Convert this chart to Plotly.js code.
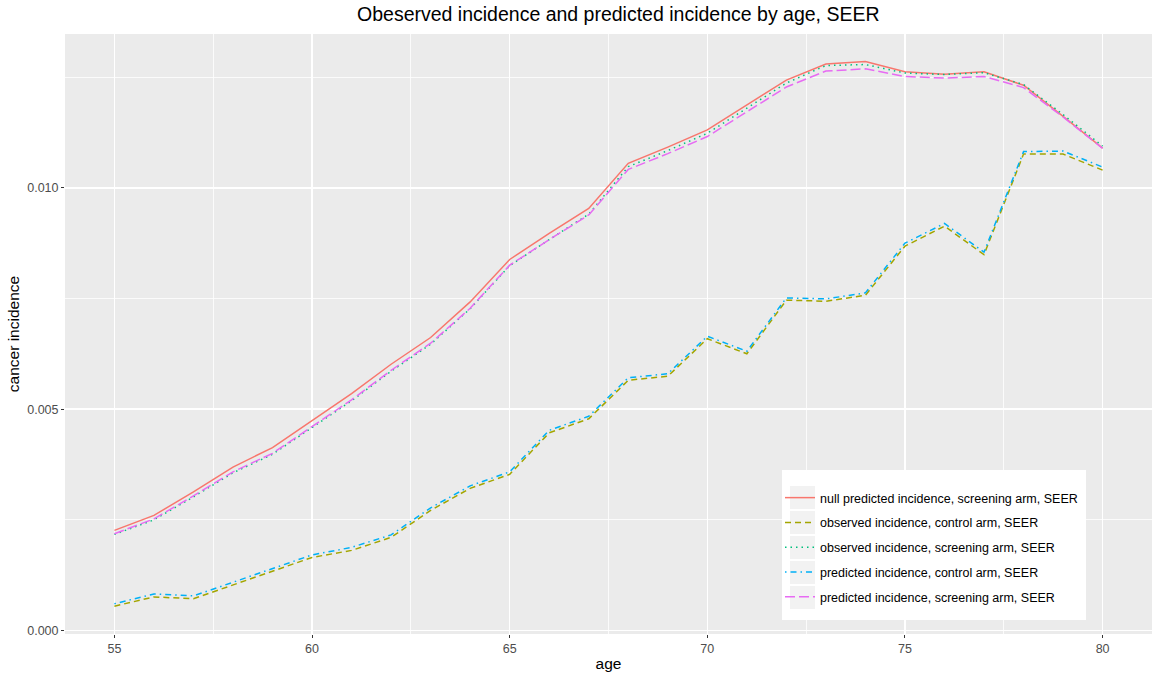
<!DOCTYPE html>
<html>
<head>
<meta charset="utf-8">
<script src="https://cdn.plot.ly/plotly-3.0.1.min.js"></script>
<style>html,body{margin:0;padding:0;background:#fff;}#chart{width:1155px;height:673px;}</style>
</head>
<body>
<div id="chart"></div>
<script>
const ages = [55,56,57,58,59,60,61,62,63,64,65,66,67,68,69,70,71,72,73,74,75,76,77,78,79,80];

const nullPredScreen = [0.002261,0.002600,0.003131,0.003692,0.004131,0.004748,0.005352,0.006014,0.006618,0.007423,0.008381,0.008969,0.009534,0.010552,0.010918,0.011307,0.011877,0.012433,0.012797,0.012851,0.012623,0.012568,0.012623,0.012317,0.011612,0.010898];
const obsControl = [0.000549,0.000757,0.000717,0.001029,0.001341,0.001650,0.001809,0.002103,0.002713,0.003211,0.003527,0.004465,0.004782,0.005652,0.005743,0.006591,0.006251,0.007461,0.007438,0.007574,0.008682,0.009134,0.008490,0.010762,0.010762,0.010400];
const obsScreen = [0.002170,0.002498,0.003018,0.003561,0.003979,0.004578,0.005189,0.005856,0.006466,0.007269,0.008241,0.008829,0.009405,0.010479,0.010841,0.011232,0.011802,0.012367,0.012763,0.012785,0.012593,0.012559,0.012600,0.012333,0.011655,0.010943];
const predControl = [0.000604,0.000825,0.000780,0.001092,0.001409,0.001707,0.001877,0.002159,0.002770,0.003267,0.003584,0.004522,0.004838,0.005709,0.005799,0.006647,0.006308,0.007513,0.007490,0.007626,0.008750,0.009195,0.008546,0.010818,0.010830,0.010468];
const predScreen = [0.002186,0.002521,0.003041,0.003584,0.004002,0.004601,0.005211,0.005878,0.006489,0.007280,0.008252,0.008829,0.009387,0.010416,0.010773,0.011158,0.011723,0.012277,0.012638,0.012688,0.012514,0.012480,0.012514,0.012265,0.011600,0.010890];

const seriesNames = [
  "null predicted incidence, screening arm, SEER",
  "observed incidence, control arm, SEER",
  "observed incidence, screening arm, SEER",
  "predicted incidence, control arm, SEER",
  "predicted incidence, screening arm, SEER"
];
const tickVals = [0, 0.005, 0.010];
const tickText = ["0.000", "0.005", "0.010"];

const seriesData = [nullPredScreen, obsControl, obsScreen, predControl, predScreen];
const colors = ["#F8766D", "#A3A500", "#00BF7D", "#00B0F6", "#E76BF3"];
const dashes = ["solid", "6px,4px", "1.5px,4px", "1.5px,4px,6px,4px", "10px,4px"];

const traces = seriesData.map((d, i) => ({
  x: ages, y: d, type: "scatter", mode: "lines",
  name: seriesNames[i], legendgroup: "g" + i,
  line: {color: colors[i], width: 1.5, dash: dashes[i]}
}));

// legend panel decoration (ggplot-style legend box with grey key backgrounds), in pixel units converted to paper
const W = 1155, H = 673, ML = 65, MR = 3, MT = 34, MB = 39;
const pw = W - ML - MR, ph = H - MT - MB;
const px = v => (v - ML) / pw;
const py = v => (H - MB - v) / ph;
const shapes = [{type: "rect", xref: "paper", yref: "paper", layer: "above",
  x0: px(782), x1: px(1086), y0: py(620), y1: py(470), fillcolor: "#FFFFFF", line: {width: 0}}];
for (let k = 0; k < seriesNames.length; k++) {
  const c = 497.5 + 25 * k;
  shapes.push({type: "rect", xref: "paper", yref: "paper", layer: "above",
    x0: px(790), x1: px(815), y0: py(c + 11.5), y1: py(c - 11.5), fillcolor: "#F2F2F2", line: {width: 0}});
}

const font = "Liberation Sans, Arial, Helvetica, sans-serif";
const layout = {
  width: W, height: H,
  margin: {l: ML, r: MR, t: MT, b: MB},
  paper_bgcolor: "#FFFFFF", plot_bgcolor: "#EBEBEB",
  font: {family: font, color: "#000000"},
  title: {text: "Obeserved incidence and predicted incidence by age, SEER", xref: "paper", x: 0.509, xanchor: "center", yref: "container", y: 0.979, yanchor: "middle", font: {size: 19.5, color: "#000000", family: font}},
  showlegend: true,
  shapes: shapes,
  legend: {x: px(780), xanchor: "left", y: py(483), yanchor: "top", bgcolor: "rgba(0,0,0,0)", borderwidth: 0,
    font: {size: 12.5, color: "#000000", family: font}, tracegroupgap: 5.5, traceorder: "grouped", itemwidth: 30},
  xaxis: {range: [53.75, 81.25], dtick: 5, tick0: 55, showgrid: true, gridcolor: "#FFFFFF", gridwidth: 1.6,
    minor: {dtick: 2.5, tick0: 55, showgrid: true, gridcolor: "#FFFFFF", gridwidth: 0.8},
    zeroline: false, ticks: "outside", ticklen: 3, tickcolor: "#333333", tickwidth: 1,
    tickfont: {size: 12.5, color: "#4D4D4D", family: font},
    title: {text: "age", font: {size: 15.5, color: "#000000", family: font}, standoff: 3},
    automargin: false, showline: false, fixedrange: true},
  yaxis: {range: [-0.00008, 0.013475], tickvals: tickVals, ticktext: tickText, showgrid: true, gridcolor: "#FFFFFF", gridwidth: 1.6,
    minor: {tickvals: [0.0025, 0.0075, 0.0125], showgrid: true, gridcolor: "#FFFFFF", gridwidth: 0.8},
    zeroline: false, ticks: "outside", ticklen: 3, tickcolor: "#333333", tickwidth: 1,
    tickfont: {size: 12.5, color: "#4D4D4D", family: font},
    title: {text: "cancer incidence", font: {size: 15.5, color: "#000000", family: font}, standoff: 3},
    automargin: false, showline: false, fixedrange: true}
};

Plotly.newPlot("chart", traces, layout, {displayModeBar: false, staticPlot: true});
</script>
</body>
</html>
